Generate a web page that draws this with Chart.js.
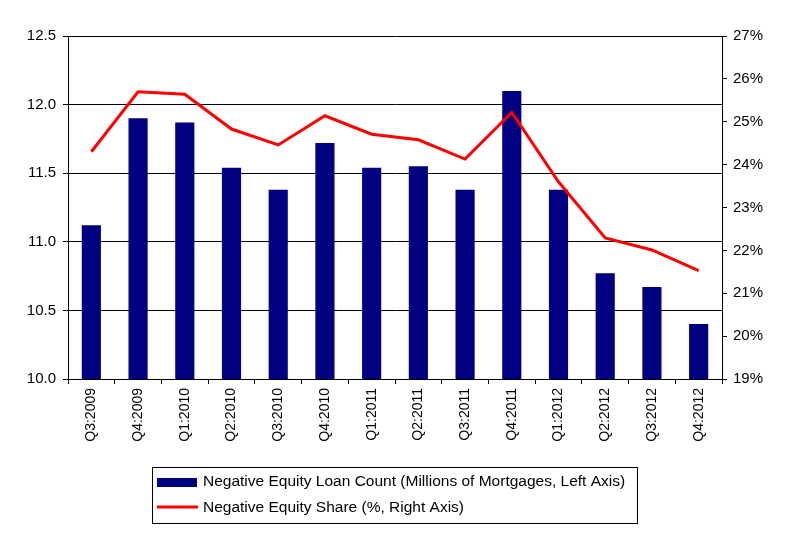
<!DOCTYPE html>
<html>
<head>
<meta charset="utf-8">
<script src="https://cdn.jsdelivr.net/npm/chart.js@4"></script>
<style>
  body { margin: 0; background: #fff; }
  #wrap { width: 790px; height: 537px; }
</style>
</head>
<body>
<div id="wrap"><canvas id="myChart" width="790" height="537"></canvas></div>
<script>
const quarters = ["Q3:2009", "Q4:2009", "Q1:2010", "Q2:2010", "Q3:2010", "Q4:2010", "Q1:2011",
    "Q2:2011", "Q3:2011", "Q4:2011", "Q1:2012", "Q2:2012", "Q3:2012", "Q4:2012"];
const loanCount = [11.12, 11.9, 11.87, 11.54, 11.38, 11.72, 11.54, 11.55, 11.38, 12.1, 11.38, 10.77, 10.67, 10.4];
const equityShare = [24.3, 25.7, 25.64, 24.83, 24.46, 25.14, 24.71, 24.58, 24.13, 25.22, 23.6, 22.29, 22.01, 21.53];

const fontFamily = 'Arial, "Liberation Sans", sans-serif';

// legend drawn as a boxed list under the chart
const boxLegend = {
    id: "boxLegend",
    afterDraw(chart) {
        const ctx = chart.ctx;
        const barSet = chart.data.datasets[1];
        const lineSet = chart.data.datasets[0];
        ctx.save();
        ctx.strokeStyle = "#000";
        ctx.lineWidth = 1;
        ctx.strokeRect(152.5, 467.5, 485, 56);
        ctx.font = "15.5px " + fontFamily;
        ctx.textBaseline = "middle";
        // bar swatch
        ctx.fillStyle = barSet.backgroundColor;
        ctx.fillRect(157, 478, 40, 9);
        ctx.fillStyle = "#000";
        ctx.fillText(barSet.label, 203, 482);
        // line swatch
        ctx.strokeStyle = lineSet.borderColor;
        ctx.lineWidth = 3;
        ctx.beginPath();
        ctx.moveTo(157, 507);
        ctx.lineTo(198, 507);
        ctx.stroke();
        ctx.fillText(lineSet.label, 203, 508);
        ctx.restore();
    }
};

const config = {
    data: {
        labels: quarters,
        datasets: [
            {
                type: "line",
                label: "Negative Equity Share (%, Right Axis)",
                data: equityShare,
                borderColor: "#ff0000",
                backgroundColor: "#ff0000",
                borderWidth: 3,
                pointRadius: 0,
                tension: 0,
                yAxisID: "y1",
                order: 0
            },
            {
                type: "bar",
                label: "Negative Equity Loan Count (Millions of Mortgages, Left Axis)",
                data: loanCount,
                backgroundColor: "#000080",
                barPercentage: 0.41,
                categoryPercentage: 1,
                yAxisID: "y",
                order: 1
            }
        ]
    },
    options: {
        responsive: false,
        animation: false,
        layout: { padding: { top: 36, left: 0, right: 0, bottom: 0 } },
        plugins: {
            legend: { display: false },
            tooltip: { enabled: false }
        },
        scales: {
            x: {
                offset: true,
                grid: { offset: true, drawOnChartArea: false, color: "#000", tickLength: 5 },
                border: { color: "#000" },
                ticks: {
                    color: "#000",
                    font: { family: fontFamily, size: 14 },
                    minRotation: 90,
                    maxRotation: 90,
                    padding: 4,
                    autoSkip: false
                },
                afterFit(scale) { scale.height = 158; }
            },
            y: {
                position: "left",
                min: 10,
                max: 12.5,
                ticks: {
                    stepSize: 0.5,
                    color: "#000",
                    font: { family: fontFamily, size: 15 },
                    padding: 7,
                    callback: v => v.toFixed(1)
                },
                grid: { color: "#000", tickLength: 5 },
                border: { color: "#000" },
                afterFit(scale) { scale.width = 68; }
            },
            y1: {
                position: "right",
                min: 19,
                max: 27,
                ticks: {
                    stepSize: 1,
                    color: "#000",
                    font: { family: fontFamily, size: 15 },
                    padding: 6,
                    callback: v => v + "%"
                },
                grid: { drawOnChartArea: false, color: "#000", tickLength: 5 },
                border: { color: "#000" },
                afterFit(scale) { scale.width = 68; }
            }
        }
    },
    plugins: [boxLegend]
};

new Chart(document.getElementById("myChart"), config);
</script>
</body>
</html>
